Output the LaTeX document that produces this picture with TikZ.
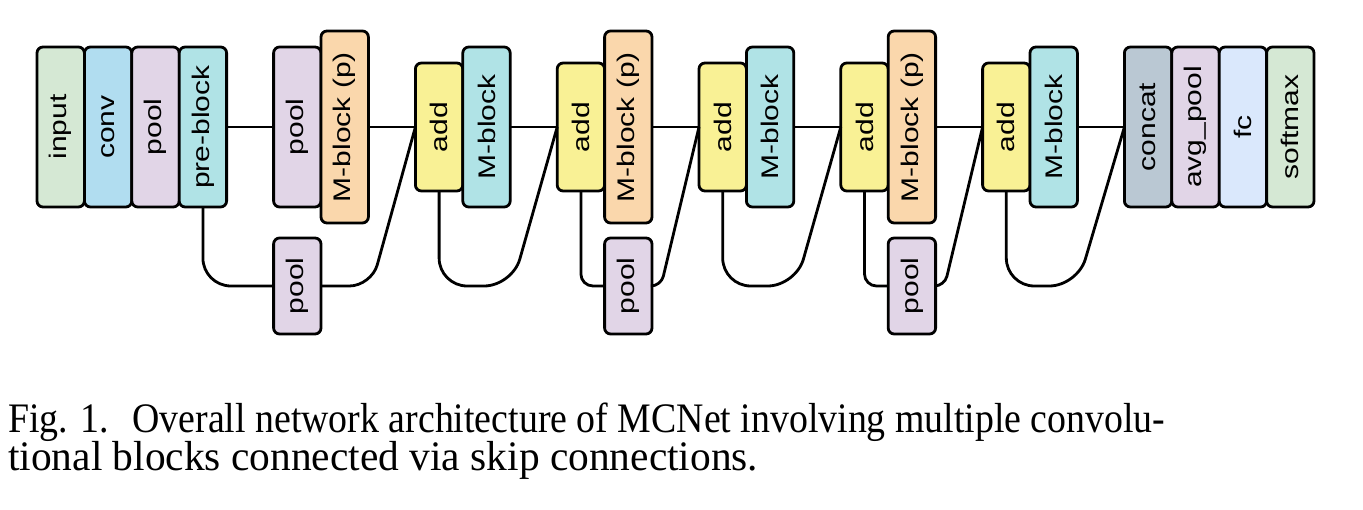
\documentclass[tikz,border=0pt]{standalone}
\usepackage{graphicx}
\usepackage{fontspec}
\setmainfont{Liberation Serif}
\setsansfont{Liberation Sans}
\usetikzlibrary{positioning}
\definecolor{cin}{HTML}{D5E8D4}
\definecolor{cconv}{HTML}{B1DDF0}
\definecolor{cpool}{HTML}{E1D5E7}
\definecolor{cmb}{HTML}{B0E3E6}
\definecolor{cmbp}{HTML}{FAD7AC}
\definecolor{cadd}{HTML}{F9F195}
\definecolor{ccat}{HTML}{BAC8D3}
\definecolor{cfc}{HTML}{DAE8FC}
\newcommand{\vt}[1]{\rotatebox{90}{\scalebox{1}[.8]{#1}}}

\begin{document}
\begin{tikzpicture}[x=1pt,y=1pt,
	blk/.style={draw, line width=2.8pt, rounded corners=6pt, outer sep=0pt, inner sep=0pt,
		minimum width=47.4pt, minimum height=160pt, font=\sffamily\fontsize{30}{30}\selectfont},
	addblk/.style={blk, minimum height=128pt, fill=cadd},
	mpblk/.style={blk, minimum height=192pt, fill=cmbp},
	lpool/.style={blk, minimum height=96pt, fill=cpool},
	wire/.style={line width=2.8pt},
	captxt/.style={anchor=base west, inner sep=0pt, font=\fontsize{42}{39}\selectfont}]
		\useasboundingbox (0,0) rectangle (1363,509);
		\coordinate (low) at (0,223);
		
		\node[blk, fill=cin] (in) at (60.7,382) {\vt{input}};
		\node[blk, fill=cconv, right=0pt of in] (cv) {\vt{conv}};
		\node[blk, fill=cpool, right=0pt of cv] (p0) {\vt{pool}};
		\node[blk, fill=cmb, right=0pt of p0] (pre) {\vt{pre-block}};
		
		\node[blk, fill=cpool, right=47pt of pre] (p1) {\vt{pool}};
		\node[mpblk, right=0pt of p1] (mp1) {\vt{M-block (p)}};
		\node[lpool, below=31pt of p1] (lp1) {\vt{pool}};
		
		\node[addblk, right=47pt of mp1] (a1) {\vt{add}};
		\node[blk, fill=cmb, right=0pt of a1] (m1) {\vt{M-block}};
		
		\node[addblk, right=47pt of m1] (a2) {\vt{add}};
		\node[mpblk, right=0pt of a2] (mp2) {\vt{M-block (p)}};
		\node[lpool, below=15pt of mp2] (lp2) {\vt{pool}};
		
		\node[addblk, right=47pt of mp2] (a3) {\vt{add}};
		\node[blk, fill=cmb, right=0pt of a3] (m3) {\vt{M-block}};
		
		\node[addblk, right=47pt of m3] (a4) {\vt{add}};
		\node[mpblk, right=0pt of a4] (mp4) {\vt{M-block (p)}};
		\node[lpool, below=15pt of mp4] (lp4) {\vt{pool}};
		
		\node[addblk, right=47pt of mp4] (a5) {\vt{add}};
		\node[blk, fill=cmb, right=0pt of a5] (m5) {\vt{M-block}};
		
		\node[blk, fill=ccat, right=47pt of m5] (cat) {\vt{concat}};
		\node[blk, fill=cpool, right=0pt of cat] (avg) {\vt{avg\_pool}};
		\node[blk, fill=cfc, right=0pt of avg] (fc) {\vt{fc}};
		\node[blk, fill=cin, right=0pt of fc] (sm) {\vt{softmax}};
		
		\draw[wire] (pre.east) -- (p1.west);
		\draw[wire] (mp1.east) -- (a1.west);
		\draw[wire] (m1.east) -- (a2.west);
		\draw[wire] (mp2.east) -- (a3.west);
		\draw[wire] (m3.east) -- (a4.west);
		\draw[wire] (mp4.east) -- (a5.west);
		\draw[wire] (m5.east) -- (cat.west);
		
		\draw[wire, rounded corners=28pt] (pre.south) |- (lp1.west);
		\draw[wire, rounded corners=22pt] (lp1.east) -- ([xshift=-44pt]a1.west |- lp1.east) -- (a1.west);
		\draw[wire, rounded corners=28pt] (a1.south) |- ([xshift=-45pt]a2.west |- low) -- (a2.west);
		\draw[wire, rounded corners=12pt] (a2.south) |- (lp2.west);
		\draw[wire, rounded corners=10pt] (lp2.east) -- ([xshift=-38pt]a3.west |- lp2.east) -- (a3.west);
		\draw[wire, rounded corners=28pt] (a3.south) |- ([xshift=-45pt]a4.west |- low) -- (a4.west);
		\draw[wire, rounded corners=12pt] (a4.south) |- (lp4.west);
		\draw[wire, rounded corners=10pt] (lp4.east) -- ([xshift=-38pt]a5.west |- lp4.east) -- (a5.west);
		\draw[wire, rounded corners=28pt] (a5.south) |- ([xshift=-47pt]cat.west |- low) -- (cat.west);
		
		\node[captxt] (cap1) at (8,77) {\resizebox{1157pt}{\height}{Fig. 1.\hspace{26pt}Overall network architecture of MCNet involving multiple convolu-}};
		\node[captxt] (cap2) at (8,38) {\resizebox{750pt}{\height}{tional blocks connected via skip connections.}};
	\end{tikzpicture}
\end{document}
